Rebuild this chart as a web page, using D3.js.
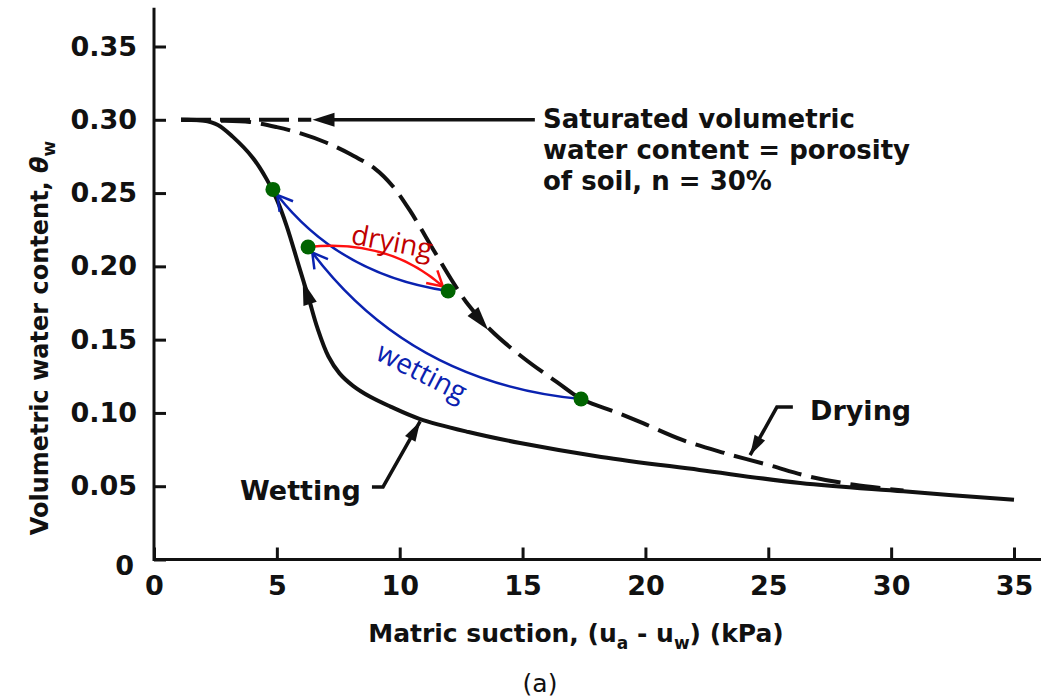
<!DOCTYPE html>
<html>
<head>
<meta charset="utf-8">
<style>
  body { margin: 0; background: #fff; }
  svg text { font-family: "DejaVu Sans", sans-serif; fill: #111; }
  .tick line { stroke: #111; stroke-width: 3; }
  .tick text { font-size: 27px; font-weight: bold; }
  .note { font-family: "Open Sans", sans-serif !important; font-size: 28px; }
</style>
</head>
<body>
<div id="chart"></div>
<script src="https://cdn.jsdelivr.net/npm/d3@7/dist/d3.min.js"></script>
<script>

// ---- values ----
var xTicks = [0, 5, 10, 15, 20, 25, 30, 35];
var yTicks = [0, 0.05, 0.10, 0.15, 0.20, 0.25, 0.30, 0.35];
var yTickLabels = ["0", "0.05", "0.10", "0.15", "0.20", "0.25", "0.30", "0.35"];

// wetting branch (solid)  [suction kPa, theta_w]
var wetting = [[1.1, 0.300], [2.0, 0.2995], [2.6, 0.2965], [3.2, 0.2885], [4.0, 0.2745],
  [4.6, 0.259], [5.0, 0.2455], [5.4, 0.2275], [5.9, 0.200], [6.3, 0.178],
  [6.65, 0.158], [7.1, 0.1385], [7.55, 0.127], [8.1, 0.1185], [8.8, 0.111],
  [9.6, 0.1045], [10.8, 0.096], [12.8, 0.087], [14.9, 0.0795], [18.2, 0.070],
  [22.2, 0.0611], [26.3, 0.0522], [30.5, 0.0465], [35.0, 0.0407]];

// drying branch (dashed)
var drying = [[1.1, 0.300], [2.5, 0.2995], [3.9, 0.2985], [5.0, 0.295], [6.0, 0.2905],
  [7.0, 0.2845], [8.0, 0.2765], [9.0, 0.2665], [9.7, 0.255], [10.4, 0.2385],
  [11.4, 0.2105], [12.1, 0.191], [12.8, 0.1736], [13.7, 0.1566], [15.0, 0.138],
  [16.4, 0.121], [17.4, 0.1095], [18.8, 0.1005], [19.9, 0.093], [21.5, 0.0816],
  [23.2, 0.0727], [25.0, 0.0645], [26.7, 0.0565], [28.5, 0.051], [30.5, 0.047]];

// flat saturation level
var saturation = [[1.1, 0.300], [6.4, 0.300]];

// green state points
var states = [[4.84, 0.2525], [6.27, 0.2132], [11.97, 0.1832], [17.38, 0.1095]];
// red / blue scanning paths between the states
var scans = [
  {from: 2, to: 0, kind: "wetting", bend: -0.20},
  {from: 3, to: 1, kind: "wetting", bend: -0.22},
  {from: 1, to: 2, kind: "drying", bend: -0.22}
];

// ---- setup ----
var margin = {top: 46.5, left: 154},
    width = 860,
    height = 513;

var svg = d3.select("#chart").append("svg")
    .attr("width", 1041)
    .attr("height", 700);

var g = svg.append("g")
    .attr("transform", "translate(" + margin.left + "," + margin.top + ")");

var x = d3.scaleLinear().domain([0, 35]).range([0, width]);
var y = d3.scaleLinear().domain([0, 0.35]).range([height, 0]);

// axes (ticks point inward)
g.append("g")
    .attr("transform", "translate(0," + height + ")")
    .call(d3.axisBottom(x).tickValues(xTicks).tickSize(-12).tickPadding(16).tickFormat(d3.format("d")))
    .call(function(a) { a.select(".domain").remove(); });

g.append("g")
    .call(d3.axisLeft(y).tickValues(yTicks).tickSize(-12).tickPadding(17)
      .tickFormat(function(d, i) { return yTickLabels[i]; }))
    .call(function(a) {
      a.select(".domain").remove();
      a.selectAll(".tick").filter(function(d) { return d === 0; }).select("text")
        .attr("dy", "0.55em").attr("x", -20);
    });

// axis lines run a little past the last ticks
g.append("line")
    .attr("x1", x(0)).attr("x2", x(36.1)).attr("y1", y(0)).attr("y2", y(0))
    .attr("stroke", "#111").attr("stroke-width", 3);
g.append("line")
    .attr("x1", x(0)).attr("x2", x(0)).attr("y1", y(0) + 1.5).attr("y2", y(0.3765))
    .attr("stroke", "#111").attr("stroke-width", 3);

// axis titles
var xt = svg.append("text")
    .attr("x", 576).attr("y", 642)
    .attr("text-anchor", "middle")
    .style("font-size", "25px").style("font-weight", "bold");
xt.append("tspan").text("Matric suction, (u");
xt.append("tspan").attr("dy", 7).style("font-size", "17px").text("a");
xt.append("tspan").attr("dy", -7).text(" - u");
xt.append("tspan").attr("dy", 7).style("font-size", "17px").text("w");
xt.append("tspan").attr("dy", -7).text(") (kPa)");

var yt = svg.append("text")
    .attr("transform", "translate(48,338) rotate(-90)")
    .attr("text-anchor", "middle")
    .style("font-size", "24px").style("font-weight", "bold");
yt.append("tspan").text("Volumetric water content, ");
yt.append("tspan").style("font-style", "italic").text("θ");
yt.append("tspan").attr("dy", 7).style("font-size", "17px").text("w");

svg.append("text")
    .attr("x", 540).attr("y", 692)
    .attr("text-anchor", "middle")
    .style("font-size", "25px")
    .text("(a)");

// ---- curves ----
var line = d3.line()
    .x(function(d) { return x(d[0]); })
    .y(function(d) { return y(d[1]); })
    .curve(d3.curveCatmullRom.alpha(0.5));

g.append("path").datum(saturation)
    .attr("d", line).attr("fill", "none")
    .attr("stroke", "#111").attr("stroke-width", 4)
    .attr("stroke-dasharray", "30,9");

g.append("path").datum(drying)
    .attr("d", line).attr("fill", "none")
    .attr("stroke", "#111").attr("stroke-width", 4)
    .attr("stroke-dasharray", "30,10");

g.append("path").datum(wetting)
    .attr("d", line).attr("fill", "none")
    .attr("stroke", "#111").attr("stroke-width", 4);

// filled arrow head, tip and a point behind it (both in px)
function headAt(parent, tip, back, len, half, color) {
  var dx = tip[0] - back[0], dy = tip[1] - back[1];
  var L = Math.sqrt(dx * dx + dy * dy);
  var ux = dx / L, uy = dy / L;
  var bx = tip[0] - ux * len, by = tip[1] - uy * len;
  parent.append("path")
    .attr("d", "M" + tip[0] + "," + tip[1] +
      "L" + (bx - uy * half) + "," + (by + ux * half) +
      "L" + (bx + uy * half) + "," + (by - ux * half) + "Z")
    .attr("fill", color);
}
function px(d) { return [x(d[0]), y(d[1])]; }

// direction arrows on the branches
headAt(g, px([6.05, 0.190]), px([6.4, 0.172]), 24, 7, "#111");
headAt(g, px([13.6, 0.1565]), px([12.94, 0.170]), 24, 7, "#111");

// ---- annotations ----
// saturation level pointer
g.append("line")
    .attr("x1", x(15.5)).attr("x2", x(7.0))
    .attr("y1", y(0.30)).attr("y2", y(0.30))
    .attr("stroke", "#111").attr("stroke-width", 3.5);
headAt(g, px([6.45, 0.30]), px([8, 0.30]), 22, 7, "#111");

var sat = ["Saturated volumetric", "water content = porosity", "of soil, n = 30%"];
var satY = [0.2944, 0.2733, 0.2521];
sat.forEach(function(s, i) {
  g.append("text")
    .attr("x", x(15.83)).attr("y", y(satY[i]))
    .style("font-size", "26px").style("font-weight", "bold")
    .text(s);
});

// leaders
var leaders = [
  {pts: [[26.0, 0.104], [25.35, 0.104], [24.26, 0.0712]], label: "Drying", at: [26.7, 0.0952]},
  {pts: [[8.87, 0.0495], [9.32, 0.0495], [10.83, 0.0942]], label: "Wetting", at: [3.5, 0.0407]}
];
leaders.forEach(function(l) {
  g.append("path")
    .attr("d", d3.line()(l.pts.map(px)))
    .attr("fill", "none").attr("stroke", "#111").attr("stroke-width", 3.5);
  headAt(g, px(l.pts[2]), px(l.pts[1]), 20, 6, "#111");
  g.append("text")
    .attr("x", x(l.at[0])).attr("y", y(l.at[1]))
    .style("font-size", "27px").style("font-weight", "bold")
    .text(l.label);
});

// ---- scanning paths ----
var scanColor = {wetting: "#0a22b0", drying: "#ff1010"};
scans.forEach(function(s) {
  var p0 = px(states[s.from]), p2 = px(states[s.to]);
  var dx = p2[0] - p0[0], dy = p2[1] - p0[1];
  var c = [(p0[0] + p2[0]) / 2 - dy * s.bend, (p0[1] + p2[1]) / 2 + dx * s.bend];
  var ex = p2[0] - c[0], ey = p2[1] - c[1];
  var el = Math.sqrt(ex * ex + ey * ey);
  var e = [p2[0] - ex / el * 7, p2[1] - ey / el * 7];
  var col = scanColor[s.kind];
  g.append("path")
    .attr("d", "M" + p0[0] + "," + p0[1] + "Q" + c[0] + "," + c[1] + " " + e[0] + "," + e[1])
    .attr("fill", "none").attr("stroke", col).attr("stroke-width", 2.5);
  // open V head
  var ux = ex / el, uy = ey / el;
  var a = Math.PI / 6, len = 17;
  var arm = function(sg) {
    var cs = Math.cos(sg * a), sn = Math.sin(sg * a);
    return [e[0] - (ux * cs - uy * sn) * len, e[1] - (uy * cs + ux * sn) * len];
  };
  var a1 = arm(1), a2 = arm(-1);
  g.append("path")
    .attr("d", "M" + a1[0] + "," + a1[1] + "L" + e[0] + "," + e[1] + "L" + a2[0] + "," + a2[1])
    .attr("fill", "none").attr("stroke", col).attr("stroke-width", 2.5);
});

g.selectAll(".state")
    .data(states)
    .enter().append("circle")
    .attr("class", "state")
    .attr("cx", function(d) { return x(d[0]); })
    .attr("cy", function(d) { return y(d[1]); })
    .attr("r", 7.5)
    .attr("fill", "#006400");

// coloured labels
g.append("text")
    .attr("class", "note")
    .attr("transform", "translate(" + x(9.69) + "," + y(0.2169) + ") rotate(11)")
    .attr("text-anchor", "middle").attr("dy", "0.35em")
    .style("fill", "#c00000")
    .text("drying");
g.append("text")
    .attr("class", "note")
    .attr("transform", "translate(" + x(10.9) + "," + y(0.1279) + ") rotate(27)")
    .attr("text-anchor", "middle").attr("dy", "0.35em")
    .style("fill", "#0a22b0")
    .text("wetting");

</script>
</body>
</html>
